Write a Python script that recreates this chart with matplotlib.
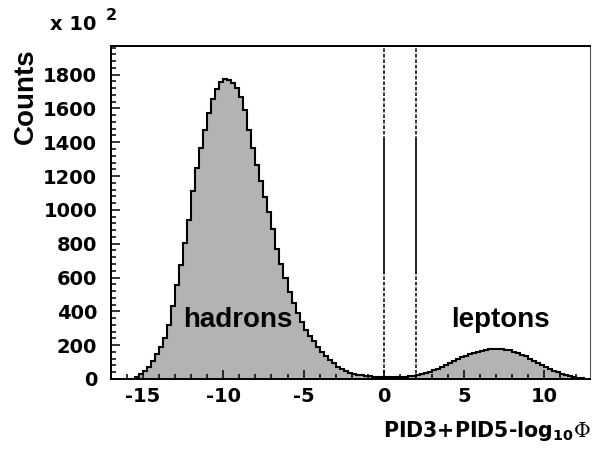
import numpy as np
import matplotlib
matplotlib.use("Agg")
import matplotlib.pyplot as plt
from matplotlib.ticker import MultipleLocator

plt.rcParams['font.family'] = ['Liberation Sans', 'DejaVu Sans']
plt.rcParams['axes.unicode_minus'] = False
plt.rcParams['mathtext.fontset'] = 'custom'
plt.rcParams['mathtext.rm'] = 'DejaVu Sans:bold'
plt.rcParams['mathtext.bf'] = 'DejaVu Sans:bold'
plt.rcParams['mathtext.sf'] = 'DejaVu Serif'

# histogram, bins of 0.25 from -16 to 12.5, counts in units of 10^2
bin_lo = -16.0
bin_w = 0.25
counts = [
    0, 2, 10, 28, 48, 72, 108, 145, 188, 245,
    320, 430, 555, 675, 805, 940, 1110, 1245, 1365, 1475,
    1570, 1655, 1715, 1755, 1775, 1770, 1750, 1720, 1665, 1590,
    1475, 1365, 1265, 1170, 1075, 985, 885, 770, 680, 595,
    517, 450, 390, 335, 290, 255, 222, 190, 162, 136,
    113, 92, 72, 58, 46, 36, 29, 25, 21, 18,
    16, 14, 12, 10, 9, 9, 10, 11, 12, 14,
    16, 19, 24, 30, 36, 43, 51, 60, 70, 81,
    93, 105, 117, 128, 138, 147, 155, 162, 168, 172,
    175, 177, 178, 177, 174, 169, 162, 153, 143, 133,
    121, 108, 96, 84, 72, 60, 50, 40, 31, 23,
    16, 11, 6, 3,
]
edges = bin_lo + bin_w * np.arange(len(counts) + 1)

# cut lines
cut_x = [0, 2]
solid_from = 630
solid_to = 1415

num_font = 'DejaVu Sans'

fig = plt.figure(figsize=(5.92, 4.5), dpi=100)
ax = fig.add_axes([0.1875, 0.1578, 0.8091, 0.74])

ax.stairs(counts, edges, fill=True, color='#b3b3b3', baseline=0)
ax.stairs(counts, edges, color='black', lw=1.5, baseline=0)

ymax = 1969
for xc in cut_x:
    ax.plot([xc, xc], [0, solid_from], color='black', lw=1.1, ls=(0, (2.4, 1.2)))
    ax.plot([xc, xc], [solid_from, solid_to], color='black', lw=1.2)
    ax.plot([xc, xc], [solid_to, ymax], color='black', lw=1.1, ls=(0, (2.4, 1.2)))

ax.set_xlim(-17, 12.85)
ax.set_ylim(0, ymax)

ax.xaxis.set_major_locator(MultipleLocator(5))
ax.xaxis.set_minor_locator(MultipleLocator(1))
ax.yaxis.set_major_locator(MultipleLocator(200))
ax.yaxis.set_minor_locator(MultipleLocator(40))
ax.tick_params(which='both', direction='in', top=False, right=False, width=1.1)
ax.tick_params(which='major', length=6.5)
ax.tick_params(which='minor', length=3.5)
ax.tick_params(axis='y', which='major', labelsize=14, pad=10)
ax.tick_params(axis='x', which='major', labelsize=14, pad=6)
for lab in ax.get_xticklabels() + ax.get_yticklabels():
    lab.set_fontweight('bold')
    lab.set_family(num_font)

for side in ['left', 'bottom', 'top']:
    ax.spines[side].set_linewidth(1.4)
ax.spines['right'].set_linewidth(0.8)
ax.spines['right'].set_color('#555555')

fig.text(26 / 592, 1 - 96 / 450, 'Counts', rotation=90, ha='center', va='center',
         fontsize=20, fontweight='bold')
fig.text(50 / 592, 1 - 30 / 450, 'x 10', ha='left', va='baseline',
         fontsize=14, fontweight='bold', family=num_font)
fig.text(106 / 592, 1 - 20 / 450, '2', ha='left', va='baseline',
         fontsize=11.5, fontweight='bold', family=num_font)

fig.text(591 / 592, 1 - 437 / 450, r'PID3+PID5-log$_{\mathbf{10}}\mathsf{\Phi}$',
         ha='right', va='baseline', fontsize=14.8, fontweight='bold', family=num_font)

ax.text(-9.1, 310, 'hadrons', ha='center', va='baseline', fontsize=20, fontweight='bold')
ax.text(7.3, 310, 'leptons', ha='center', va='baseline', fontsize=20, fontweight='bold')

fig.savefig('out.png', dpi=100)
